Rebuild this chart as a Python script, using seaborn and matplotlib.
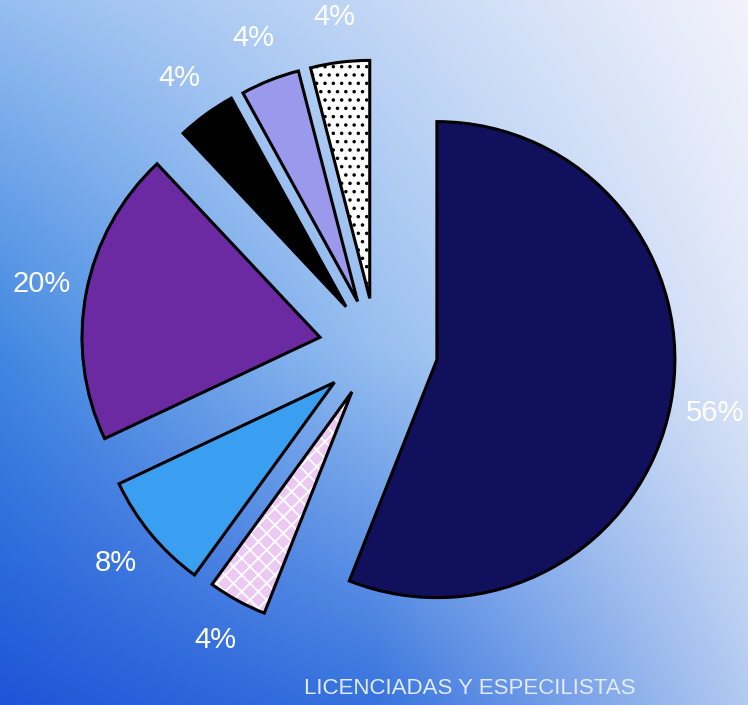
import numpy as np
import matplotlib
matplotlib.use("Agg")
import matplotlib.pyplot as plt
import seaborn as sns
from matplotlib.patches import Wedge

# Shares of each group (percent), drawn clockwise from 12 o'clock
groups = ["Grupo 1", "Grupo 2", "Grupo 3", "Grupo 4", "Grupo 5", "Grupo 6", "Grupo 7"]
shares = [56, 4, 8, 20, 4, 4, 4]
chart_title = "LICENCIADAS Y ESPECILISTAS"

sns.set_theme(style="white")
plt.rcParams["font.family"] = ["Liberation Sans", "DejaVu Sans"]
plt.rcParams["hatch.linewidth"] = 1.3

W, H = 748, 705
fig = plt.figure(figsize=(W / 100, H / 100), dpi=100)
ax = fig.add_axes([0, 0, 1, 1])

# Blue-to-white backdrop: deep blue at lower left, near white at upper right
anchors = np.array([
    [[150, 190, 240], [195, 215, 246], [242, 243, 251]],
    [[65, 135, 225], [150, 190, 240], [222, 230, 248]],
    [[30, 85, 215], [55, 115, 222], [178, 202, 241]],
], float) / 255
ny, nx = 200, 240
yy = np.linspace(0, 1, ny)
xx = np.linspace(0, 1, nx)
grid = np.linspace(0, 1, 3)
rows = np.stack([np.stack([np.interp(xx, grid, anchors[r, :, k]) for k in range(3)], -1)
                 for r in range(3)])                      # 3 x nx x 3
grad = np.stack([np.stack([np.interp(yy, grid, rows[:, j, k]) for k in range(3)], -1)
                 for j in range(nx)], axis=1)            # ny x nx x 3
ax.imshow(grad, extent=(0, W, 0, H), origin="upper", aspect="auto", zorder=0,
          interpolation="bilinear")

palette = sns.color_palette(["#10105c", "#ecc9f2", "#3a9ff0", "#6c2aa2",
                             "#000000", "#9b99ec", "#ffffff"])
radius = 238
offsets = [62, 50, 54, 57, 51, 50, 50]

wedges, texts, autotexts = ax.pie(
    shares, colors=palette, startangle=90, counterclock=False,
    center=(376, H - 348), radius=radius, explode=offsets,
    autopct=lambda p: f"{p:.0f}%", pctdistance=1.19, frame=True,
    wedgeprops=dict(edgecolor="black", linewidth=2.2),
    textprops=dict(color="white", fontsize=21),
)

# Dotted slice
wedges[6].set_hatch("..")

# Checkered slice: white hatch over the pink face, then a black outline
wc = wedges[1]
wc.set_edgecolor("white")
wc.set_hatch("xx")
wc.set_linewidth(0)
ax.add_patch(Wedge(wc.center, wc.r, wc.theta1, wc.theta2, facecolor="none",
                   edgecolor="black", linewidth=2.2, zorder=wc.get_zorder() + 0.1))

ax.text(470, H - 688, chart_title, color="#e2ecfd", fontsize=16,
        ha="center", va="center")

ax.set_xlim(0, W)
ax.set_ylim(0, H)
ax.set_aspect("auto")
ax.axis("off")
fig.savefig("out.png", dpi=100)
